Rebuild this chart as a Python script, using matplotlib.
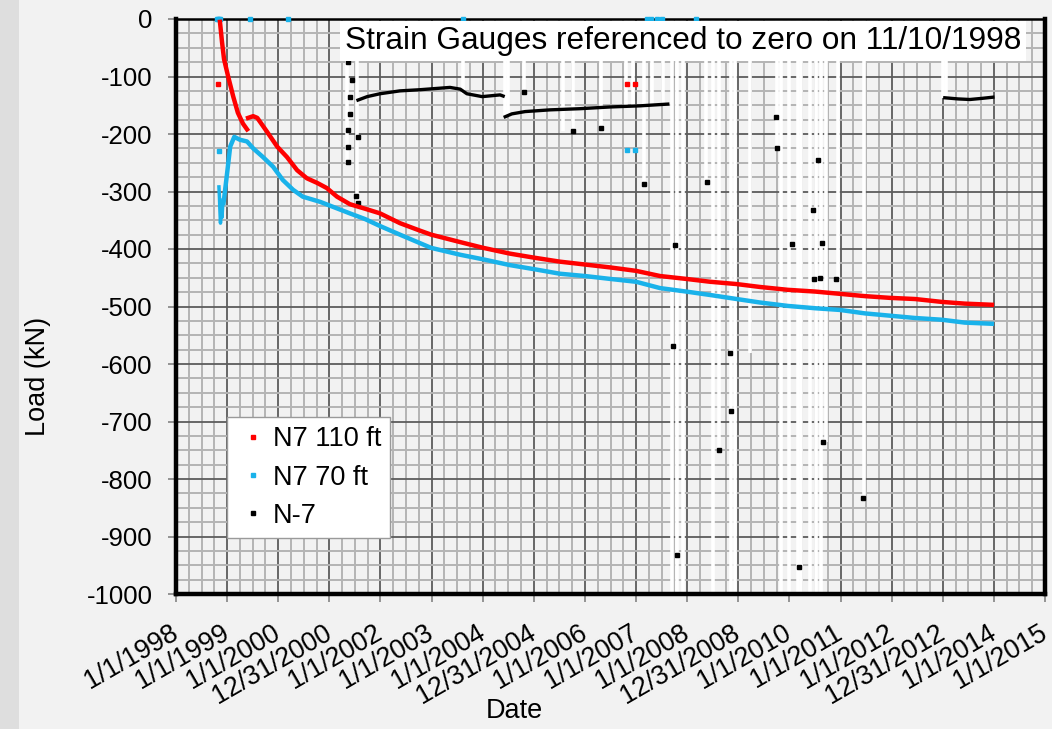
import numpy as np
import matplotlib
matplotlib.use("Agg")
import matplotlib.pyplot as plt
from matplotlib.lines import Line2D
from matplotlib.patches import Rectangle
from matplotlib.ticker import MultipleLocator
from matplotlib.transforms import ScaledTranslation

plt.rcParams['font.family'] = ['Liberation Sans', 'DejaVu Sans']
plt.rcParams['axes.unicode_minus'] = False

# ---------------- data (x in decimal years) ----------------
tick_years = list(range(1998, 2016))
tick_labels = ['1/1/1998', '1/1/1999', '1/1/2000', '12/31/2000', '1/1/2002', '1/1/2003',
               '1/1/2004', '12/31/2004', '1/1/2006', '1/1/2007', '1/1/2008', '12/31/2008',
               '1/1/2010', '1/1/2011', '1/1/2012', '12/31/2012', '1/1/2014', '1/1/2015']

# N7 110 ft (red)
red_x1 = [1998.86, 1998.90, 1998.94, 1999.02, 1999.12, 1999.21, 1999.31, 1999.39]
red_y1 = [-5, -40, -70, -100, -135, -163, -182, -192]
red_x2 = [1999.41, 1999.51, 1999.59, 1999.78, 1999.98, 2000.17, 2000.37, 2000.56, 2000.76,
          2000.95, 2001.15, 2001.40, 2001.70, 2001.99, 2002.38, 2002.77, 2002.99, 2003.56,
          2004.01, 2004.53, 2005.00, 2005.51, 2006.00, 2006.49, 2007.00, 2007.47, 2007.98,
          2008.45, 2008.97, 2009.42, 2009.97, 2010.50, 2010.99, 2011.48, 2011.97, 2012.46,
          2012.98, 2013.43, 2013.96]
red_y2 = [-172, -169, -172, -196, -222, -240, -263, -277, -285,
          -294, -309, -322, -330, -338, -355, -368, -375, -388,
          -398, -408, -415, -422, -427, -432, -438, -447, -452,
          -457, -461, -466, -471, -474, -478, -482, -485, -487,
          -492, -495, -497]
red_out_x = [1998.82, 2006.82, 2006.98]
red_out_y = [-113, -113, -113]

# N7 70 ft (cyan)
cyan_x0 = [1998.84, 1998.85, 1998.86, 1998.87, 1998.88, 1998.89, 1998.90, 1998.91, 1998.92]
cyan_y0 = [-292, -310, -335, -355, -340, -320, -345, -330, -315]
cyan_x1 = [1998.93, 1999.00, 1999.06, 1999.14, 1999.25, 1999.39, 1999.51, 1999.70, 1999.90,
           2000.09, 2000.29, 2000.48, 2000.82, 2001.11, 2001.40, 2001.70, 2001.99, 2002.38,
           2002.99, 2003.56, 2004.01, 2004.53, 2005.00, 2005.51, 2006.00, 2006.49, 2007.00,
           2007.47, 2007.98, 2008.45, 2008.97, 2009.42, 2009.97, 2010.50, 2010.99, 2011.48,
           2011.97, 2012.46, 2012.98, 2013.43, 2013.96]
cyan_y1 = [-320, -268, -222, -205, -210, -213, -225, -240, -257,
           -280, -297, -309, -318, -328, -338, -348, -360, -375,
           -398, -410, -418, -428, -435, -443, -447, -452, -457,
           -468, -474, -480, -487, -493, -499, -503, -506, -512,
           -516, -520, -523, -528, -530]
cyan_out_x = [1998.84, 2006.82, 2006.98]
cyan_out_y = [-230, -228, -228]
cyan_zero_x = [1998.80, 1998.82, 1998.84, 1998.86, 1999.45, 2000.20, 2003.61,
               2007.22, 2007.30, 2007.40, 2007.50, 2008.18]
cyan_zero_y = [0, 0, 0, 0, 0, 0, 0, 0, 0, 0, 0, 0]

# N-7 (black)
n7_x = [2001.56, 2001.74, 2001.99, 2002.38, 2002.77, 2003.36, 2003.56, 2003.69, 2003.99, 2004.34, 2004.40,
        np.nan,
        2004.44, 2004.57, 2004.83, 2005.32, 2005.90, 2006.49, 2007.08, 2007.62,
        np.nan,
        2013.04, 2013.30, 2013.53, 2013.77, 2013.98]
n7_y = [-141, -135, -130, -125, -123, -119, -122, -130, -135, -132, -134,
        np.nan,
        -170, -165, -161, -158, -156, -153, -151, -148,
        np.nan,
        -137, -139, -140, -138, -136]
n7_out_x = [2001.37, 2001.44, 2001.40, 2001.40, 2001.37, 2001.37, 2001.37, 2001.56, 2001.52, 2001.56,
            2004.81, 2005.77, 2006.31, 2007.16, 2007.73, 2007.77, 2007.81, 2008.39, 2008.62,
            2008.84, 2008.86, 2009.74, 2009.76, 2010.05, 2010.19, 2010.46, 2010.48, 2010.56,
            2010.60, 2010.64, 2010.66, 2010.91, 2011.44]
n7_out_y = [-75, -106, -135, -165, -193, -222, -249, -205, -308, -320,
            -127, -195, -190, -287, -568, -393, -932, -283, -749,
            -581, -682, -170, -225, -392, -953, -332, -452, -245,
            -451, -390, -736, -452, -833]
# N-7 excursions far below the plotted range (light connector lines)
spike_x = [2001.35, 2001.54, 2003.61, 2004.44, 2004.49, 2004.81, 2005.57, 2005.77, 2006.31,
           2006.80, 2006.94, 2007.16, 2007.31, 2007.53, 2007.70, 2007.80, 2007.92, 2008.37,
           2008.51, 2008.62, 2008.86, 2008.94, 2009.23, 2009.76, 2009.84, 2009.99, 2010.17,
           2010.23, 2010.40, 2010.52, 2010.62, 2010.72, 2010.95, 2011.46, 2013.00, 2013.06]
spike_low = [-250, -325, -130, -170, -170, -125, -195, -195, -190,
             -150, -150, -290, -150, -150, -1000, -1000, -1000, -285,
             -1000, -750, -1000, -1000, -580, -225, -1000, -1000, -1000,
             -1000, -1000, -1000, -1000, -735, -450, -835, -137, -137]

RED = '#ff0000'
CYAN = '#19b2ea'
BG = '#f2f2f2'

# ---------------- figure ----------------
fig = plt.figure(figsize=(10.52, 7.29), dpi=100, facecolor=BG)
fig.patches.append(Rectangle((0, 0), 19 / 1052, 1, transform=fig.transFigure,
                             facecolor='#dedede', edgecolor='none', zorder=0))
ax = fig.add_axes([176 / 1052, 1 - 594 / 729, 869 / 1052, 575 / 729])
ax.set_facecolor(BG)

ax.set_xlim(1998, 2015)
ax.set_ylim(-1000, 0)
ax.set_xticks(tick_years)
ax.set_xticklabels(tick_labels, rotation=30, ha='right', va='center',
                   rotation_mode='anchor', fontsize=19.3)
shift = ScaledTranslation(-2 / 100, 0, fig.dpi_scale_trans)
for lab in ax.get_xticklabels():
    lab.set_transform(lab.get_transform() + shift)
ax.xaxis.set_minor_locator(MultipleLocator(0.25))
ax.yaxis.set_major_locator(MultipleLocator(100))
ax.yaxis.set_minor_locator(MultipleLocator(25))
ax.set_axisbelow(True)
ax.grid(which='minor', color='#b4b4b4', linewidth=1.4)
ax.grid(which='major', color='#5c5c5c', linewidth=1.3)
ax.tick_params(axis='both', which='major', color='#8c8c8c', width=1.3,
               length=6, direction='out')
ax.tick_params(axis='y', which='major', labelsize=18.5, pad=11)
ax.tick_params(axis='x', which='major', pad=21)
ax.tick_params(which='minor', length=0)

for side in ['left', 'bottom', 'right']:
    ax.spines[side].set_linewidth(3.2)
    ax.spines[side].set_color('black')
ax.spines['top'].set_linewidth(1.8)
ax.spines['top'].set_color('black')

# light connectors of N-7 excursions
ax.vlines(spike_x, spike_low, 0, colors='white', linewidth=2.6, zorder=1)

# N-7
ax.plot(n7_x, n7_y, color='black', linewidth=2.4, zorder=2)
ax.plot(n7_out_x, n7_out_y, ls='none', marker='s', ms=2.2, color='black', zorder=2)

# N7 70 ft
ax.plot(cyan_x0, cyan_y0, color=CYAN, linewidth=2.5, zorder=3)
ax.plot(cyan_x1, cyan_y1, color=CYAN, linewidth=3.2, zorder=3)
ax.plot(cyan_out_x, cyan_out_y, ls='none', marker='s', ms=2.5, color=CYAN, zorder=3)
ax.plot(cyan_zero_x, cyan_zero_y, ls='none', marker='s', ms=3, color=CYAN, zorder=3, clip_on=False)

# N7 110 ft
ax.plot(red_x1, red_y1, color=RED, linewidth=3.2, zorder=4)
ax.plot(red_x2, red_y2, color=RED, linewidth=3.2, zorder=4)
ax.plot(red_out_x, red_out_y, ls='none', marker='s', ms=2.5, color=RED, zorder=4)

# annotation box
ax.text(0.5834, 0.9617, 'Strain Gauges referenced to zero on 11/10/1998',
        transform=ax.transAxes, ha='center', va='center', fontsize=22.8, zorder=6,
        bbox=dict(boxstyle='square,pad=0.15', facecolor='white', edgecolor='none'))

# legend
handles = [Line2D([], [], ls='none', marker='s', ms=2.5, color=RED),
           Line2D([], [], ls='none', marker='s', ms=2.5, color=CYAN),
           Line2D([], [], ls='none', marker='s', ms=2.5, color='black')]
leg = ax.legend(handles, ['N7 110 ft', 'N7 70 ft', 'N-7'], loc='lower left',
                bbox_to_anchor=(0.059, 0.097), borderaxespad=0, fontsize=19.5,
                frameon=True, fancybox=False, framealpha=1, edgecolor='#9a9a9a',
                handlelength=1.17, handletextpad=0.15, labelspacing=0.45,
                borderpad=0.35)
leg.get_frame().set_linewidth(1.0)
leg.set_zorder(7)

# axis titles
fig.text(38 / 1052, 1 - 376 / 729, 'Load (kN)', rotation=90, ha='center', va='center',
         fontsize=19.5)
fig.text(514 / 1052, 1 - 711 / 729, 'Date', ha='center', va='center', fontsize=19.5)

fig.savefig('out.png', dpi=100, facecolor=BG)
